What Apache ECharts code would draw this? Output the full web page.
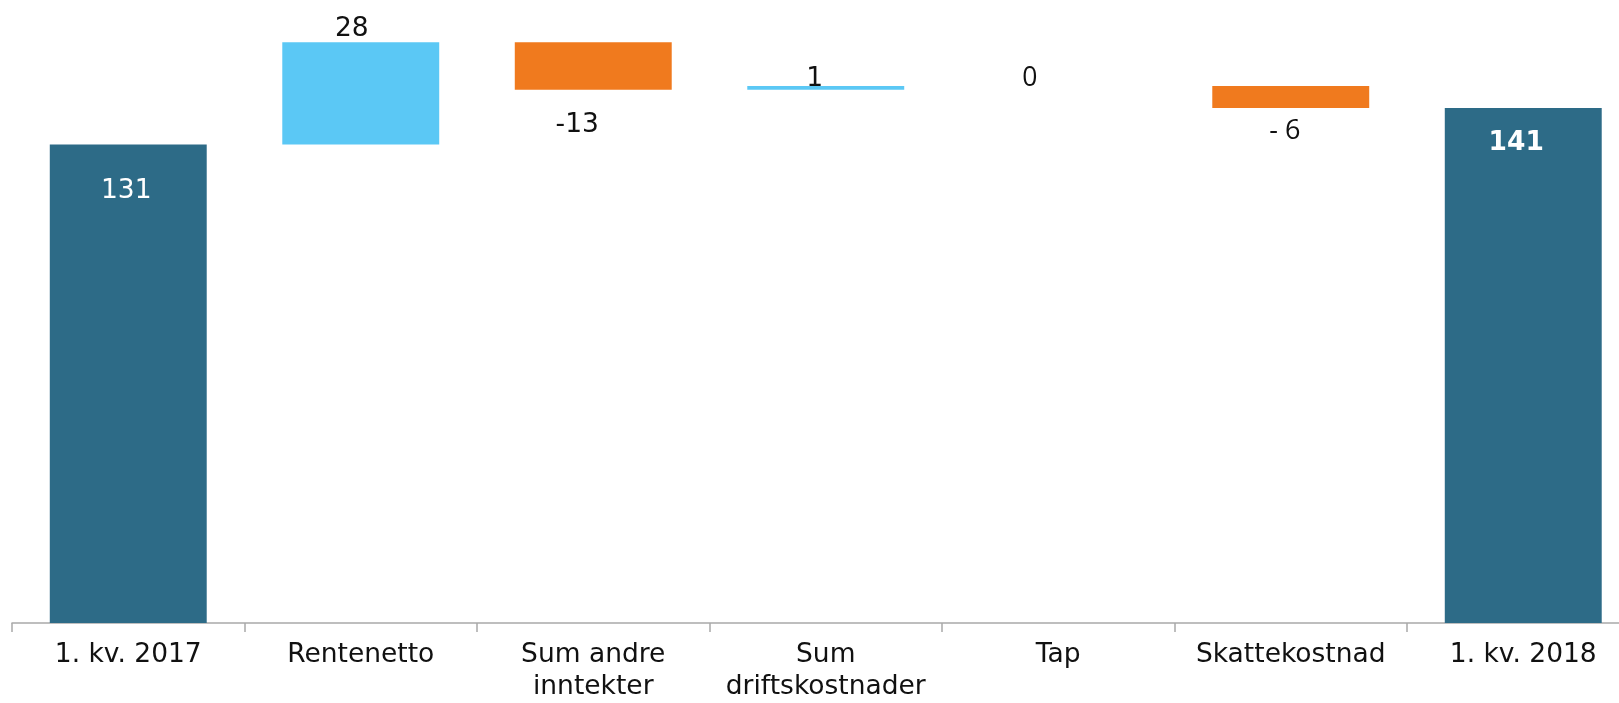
<!DOCTYPE html>
<html>
<head>
<meta charset="utf-8">
<script src="https://cdn.jsdelivr.net/npm/echarts@6/dist/echarts.min.js"></script>
<style>
html,body{margin:0;padding:0;background:#fff;overflow:hidden;}
#chart{width:1619px;height:703px;}
</style>
</head>
<body>
<div id="chart"></div>
<script>
const categories = ['1. kv. 2017', 'Rentenetto', 'Sum andre\ninntekter', 'Sum\ndriftskostnader', 'Tap', 'Skattekostnad', '1. kv. 2018'];
const values = [131, 28, -13, 1, 0, -6, 141];
const isTotal = [true, false, false, false, false, false, true];
const valueLabels = ['131', '28', '-13', '1', '0', '- 6', '141'];

const DARK = '#2d6b87', UP = '#5bc8f5', DOWN = '#f07a1e';

// label placement tweaks (not data)
const labelCfg = [
  {position: 'insideTop', distance: 33, offset: [-2, 0], color: '#fff', fontWeight: 'normal'},
  {position: 'top', distance: 0, offset: [-9, 0]},
  {position: 'bottom', distance: 22, offset: [-16, 0]},
  {position: 'top', distance: -6.5, offset: [-11, 0]},
  {position: 'top', distance: -6, offset: [-28.5, 0], fontFamily: 'Open Sans', fontSize: 26.5},
  {position: 'bottom', distance: 10, offset: [-6, 0], fontFamily: 'Open Sans', fontSize: 27},
  {position: 'insideTop', distance: 22, offset: [-7, 0], color: '#fff', fontWeight: 'bold'}
];

const base = [];
const heights = [];
let running = 0;
values.forEach((v, i) => {
  if (isTotal[i]) {
    base.push(0);
    heights.push(v);
    running = v;
  } else {
    const next = running + v;
    base.push(Math.min(running, next));
    heights.push(Math.abs(v));
    running = next;
  }
});

const barData = heights.map((h, i) => {
  const color = isTotal[i] ? DARK : (values[i] >= 0 ? UP : DOWN);
  return {
    value: h,
    itemStyle: {color: color},
    label: Object.assign({
      show: true,
      formatter: valueLabels[i],
      fontFamily: 'DejaVu Sans',
      fontSize: 26.5,
      color: '#111'
    }, labelCfg[i])
  };
});

const chart = echarts.init(document.getElementById('chart'), null, {renderer: 'canvas'});
chart.setOption({
  animation: false,
  backgroundColor: '#fff',
  grid: {left: 12, width: 1627.5, top: 2, bottom: 80, containLabel: false, outerBoundsMode: 'none'},
  xAxis: {
    type: 'category',
    data: categories,
    boundaryGap: true,
    axisLine: {show: true, lineStyle: {color: '#a9a9a9', width: 1.5}},
    axisTick: {show: true, length: 9, lineStyle: {color: '#a9a9a9', width: 1.5}},
    axisLabel: {
      interval: 0,
      margin: 16,
      fontFamily: 'DejaVu Sans',
      fontSize: 26.5,
      lineHeight: 32,
      color: '#111'
    }
  },
  yAxis: {
    type: 'value',
    min: 0,
    max: 170,
    show: false,
    splitLine: {show: false}
  },
  series: [
    {
      type: 'bar',
      stack: 'w',
      data: base,
      barWidth: '67.5%',
      itemStyle: {color: 'transparent'},
      emphasis: {disabled: true},
      silent: true
    },
    {
      type: 'bar',
      stack: 'w',
      data: barData,
      barWidth: '67.5%'
    }
  ]
});
</script>
</body>
</html>
